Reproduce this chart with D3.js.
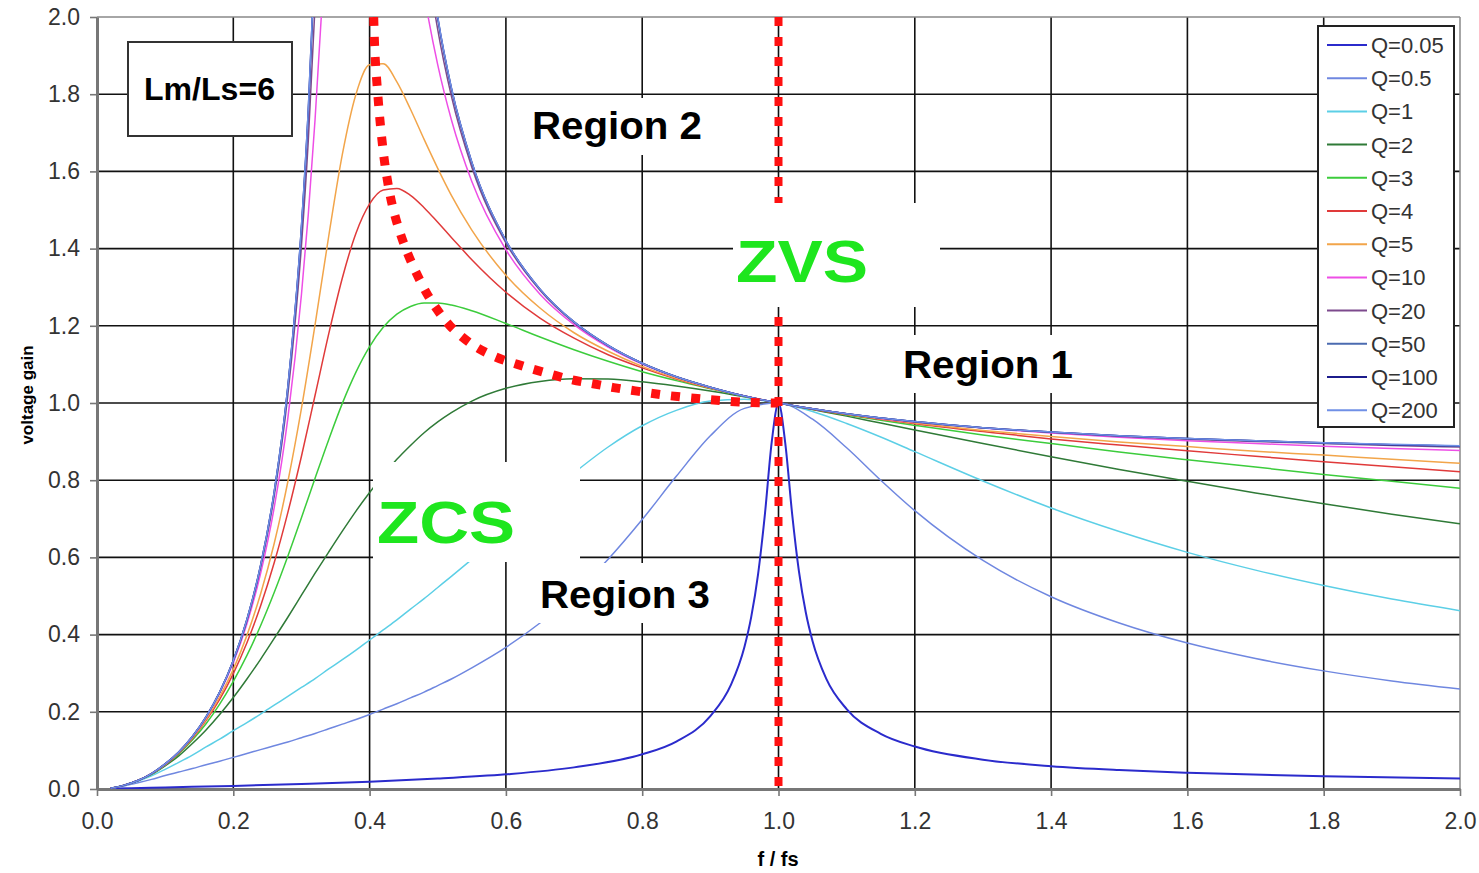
<!DOCTYPE html>
<html><head><meta charset="utf-8">
<script src="https://cdn.jsdelivr.net/npm/d3@7"></script>
<style>
html,body{margin:0;padding:0;background:#fff;}
svg{display:block;font-family:"Liberation Sans",Arial,sans-serif;}
</style></head><body>
<svg id="chart" width="1479" height="873"></svg>
<script>
// ---------- data ----------
const xTicks = [0.0,0.2,0.4,0.6,0.8,1.0,1.2,1.4,1.6,1.8,2.0];
const yTicks = [0.0,0.2,0.4,0.6,0.8,1.0,1.2,1.4,1.6,1.8,2.0];
const seriesNames = ["Q=0.05","Q=0.5","Q=1","Q=2","Q=3","Q=4","Q=5","Q=10","Q=20","Q=50","Q=100","Q=200"];
const seriesColors = ["#2b2bcc","#6f87e0","#5ccfe6","#2f7a37","#3ccc3c","#e03a3a","#f2a54a","#ee4ee6","#7d4a8d","#4b6bb0","#1c1c8c","#7090e6"];

const fRatioFine = [0.02,0.05,0.1,0.2,0.3,0.4,0.5,0.6,0.7,0.8,0.85,0.9,0.93,0.95,0.96,0.97,0.98,0.99,1.0,1.01,1.02,1.03,1.04,1.05,1.07,1.1,1.15,1.2,1.3,1.4,1.5,1.6,1.8,2.0];
const fRatioLow = [0.02,0.04,0.06,0.08,0.10,0.12,0.14,0.16,0.18,0.20,0.22,0.24,0.26,0.28,0.30,0.32,0.34,0.36,0.38,0.40,0.42,0.44,0.46,0.48,0.50,0.52,0.55,0.60,0.65,0.70,0.75,0.80,0.85,0.90,0.95,1.00,1.05,1.10,1.15,1.20,1.30,1.40,1.50,1.60,1.70,1.80,1.90,2.00];
const fRatioHigh = [0.02,0.04,0.06,0.08,0.10,0.12,0.14,0.16,0.18,0.20,0.22,0.24,0.26,0.28,0.30,0.31,0.32,0.33,0.34,0.36,0.38,0.40,0.42,0.44,0.46,0.48,0.50,0.52,0.55,0.60,0.65,0.70,0.75,0.80,0.85,0.90,0.95,1.00,1.05,1.10,1.15,1.20,1.30,1.40,1.50,1.60,1.70,1.80,1.90,2.00];

const gainQ0_05 = [0.001,0.002,0.004,0.008,0.013,0.019,0.027,0.038,0.056,0.090,0.123,0.189,0.269,0.368,0.446,0.556,0.711,0.898,1.000,0.895,0.713,0.564,0.458,0.383,0.286,0.207,0.143,0.110,0.076,0.059,0.049,0.042,0.033,0.027];
const gainQ0_5 = [0.002,0.008,0.016,0.025,0.035,0.044,0.053,0.063,0.072,0.082,0.092,0.102,0.112,0.122,0.133,0.144,0.156,0.168,0.180,0.193,0.207,0.221,0.236,0.251,0.268,0.285,0.314,0.367,0.430,0.505,0.595,0.698,0.810,0.915,0.986,1.000,0.958,0.884,0.800,0.721,0.592,0.498,0.430,0.378,0.338,0.306,0.280,0.259];
const gainQ1 = [0.002,0.009,0.020,0.034,0.051,0.069,0.088,0.109,0.129,0.151,0.172,0.194,0.217,0.240,0.263,0.286,0.311,0.335,0.360,0.386,0.412,0.438,0.466,0.493,0.522,0.551,0.595,0.670,0.746,0.819,0.886,0.941,0.981,1.005,1.010,1.000,0.978,0.947,0.912,0.874,0.798,0.728,0.667,0.613,0.567,0.527,0.492,0.462];
const gainQ2 = [0.002,0.010,0.022,0.038,0.060,0.086,0.118,0.153,0.193,0.237,0.285,0.336,0.390,0.445,0.502,0.559,0.614,0.668,0.720,0.768,0.813,0.854,0.890,0.923,0.951,0.975,1.005,1.038,1.056,1.063,1.062,1.055,1.044,1.031,1.016,1.000,0.983,0.966,0.948,0.930,0.895,0.861,0.828,0.797,0.767,0.739,0.712,0.687];
const gainQ3 = [0.002,0.010,0.022,0.039,0.062,0.091,0.127,0.169,0.220,0.279,0.346,0.423,0.509,0.603,0.703,0.805,0.905,0.999,1.080,1.146,1.196,1.230,1.250,1.259,1.259,1.254,1.239,1.206,1.171,1.138,1.108,1.081,1.058,1.037,1.017,1.000,0.984,0.969,0.955,0.942,0.917,0.895,0.873,0.853,0.834,0.815,0.797,0.779];
const gainQ4 = [0.002,0.010,0.022,0.040,0.063,0.093,0.131,0.177,0.232,0.299,0.379,0.474,0.586,0.716,0.862,1.020,1.179,1.324,1.440,1.516,1.552,1.556,1.538,1.506,1.468,1.429,1.371,1.287,1.220,1.168,1.125,1.091,1.062,1.038,1.018,1.000,0.984,0.970,0.958,0.946,0.926,0.907,0.891,0.876,0.862,0.848,0.835,0.822];
const gainQ5 = [0.002,0.010,0.022,0.040,0.064,0.094,0.133,0.180,0.239,0.310,0.398,0.505,0.636,0.796,0.986,1.203,1.432,1.644,1.800,1.876,1.879,1.832,1.761,1.683,1.608,1.538,1.448,1.331,1.246,1.182,1.134,1.095,1.064,1.039,1.018,1.000,0.985,0.971,0.959,0.948,0.929,0.913,0.899,0.887,0.875,0.865,0.854,0.844];
const gainQ10 = [0.002,0.010,0.022,0.040,0.064,0.096,0.135,0.185,0.248,0.327,0.428,0.558,0.729,0.960,1.281,1.488,1.735,2.027,2.366,null,null,null,null,2.630,2.304,2.060,1.876,1.734,1.574,1.397,1.282,1.203,1.145,1.101,1.067,1.040,1.018,1.000,0.985,0.972,0.960,0.951,0.935,0.922,0.911,0.902,0.895,0.888,0.882,0.877];
const gainQ20 = [0.002,0.010,0.022,0.040,0.065,0.096,0.136,0.187,0.251,0.332,0.436,0.574,0.759,1.020,1.408,1.679,2.031,2.499,null,null,null,null,null,null,2.542,2.202,1.967,1.795,1.611,1.415,1.292,1.208,1.148,1.103,1.068,1.041,1.018,1.000,0.985,0.972,0.961,0.951,0.936,0.924,0.914,0.906,0.900,0.895,0.890,0.886];
const gainQ50 = [0.002,0.010,0.022,0.040,0.065,0.096,0.136,0.187,0.251,0.333,0.439,0.578,0.768,1.039,1.451,1.748,2.146,null,null,null,null,null,null,null,2.622,2.247,1.995,1.814,1.622,1.420,1.295,1.210,1.149,1.103,1.068,1.041,1.018,1.000,0.985,0.972,0.961,0.952,0.936,0.924,0.915,0.908,0.902,0.896,0.892,0.888];
const gainQ100 = [0.002,0.010,0.022,0.040,0.065,0.096,0.136,0.187,0.251,0.333,0.439,0.579,0.770,1.042,1.457,1.758,2.164,null,null,null,null,null,null,null,2.634,2.254,1.999,1.816,1.624,1.421,1.295,1.210,1.149,1.103,1.068,1.041,1.018,1.000,0.985,0.972,0.961,0.952,0.936,0.925,0.915,0.908,0.902,0.897,0.892,0.889];
const gainQ200 = [0.002,0.010,0.022,0.040,0.065,0.096,0.136,0.187,0.251,0.333,0.439,0.579,0.770,1.042,1.459,1.761,2.168,null,null,null,null,null,null,null,2.638,2.256,2.000,1.817,1.624,1.421,1.295,1.210,1.149,1.103,1.068,1.041,1.018,1.000,0.985,0.972,0.961,0.952,0.936,0.925,0.915,0.908,0.902,0.897,0.893,0.889];

// boundary ZVS / ZCS (locus of peaks) and resonance line
const locusRatio = [0.406,0.408,0.412,0.417,0.424,0.435,0.453,0.479,0.496,0.518,0.552,0.584,0.617,0.655,0.697,0.728,0.758,0.795,0.835,0.890,0.930,0.960,1.000];
const locusGain  = [2.000,1.900,1.800,1.700,1.600,1.500,1.400,1.300,1.250,1.200,1.150,1.120,1.100,1.080,1.060,1.050,1.040,1.030,1.020,1.010,1.004,1.001,1.000];
const resonanceRatio = [1.0,1.0];
const resonanceGain = [2.0,0.0];

// ---------- chart ----------
const plot = {left:97, right:1460, top:17, bottom:789};
const x = d3.scaleLinear().domain([0,2]).range([plot.left, plot.right]);
const y = d3.scaleLinear().domain([0,2]).range([plot.bottom, plot.top]);
const svg = d3.select('#chart');

svg.append('defs').append('clipPath').attr('id','plotclip')
  .append('rect').attr('x',plot.left).attr('y',plot.top)
  .attr('width',plot.right-plot.left).attr('height',plot.bottom-plot.top);

// grid
const grid = svg.append('g');
grid.selectAll('line.v').data(xTicks.filter(d=>d>0 && d<2)).join('line').attr('class','v')
  .attr('x1',d=>x(d)).attr('x2',d=>x(d)).attr('y1',plot.top).attr('y2',plot.bottom)
  .attr('stroke','#111').attr('stroke-width',1.6);
grid.selectAll('line.h').data(yTicks.filter(d=>d>0 && d<2)).join('line').attr('class','h')
  .attr('y1',d=>y(d)).attr('y2',d=>y(d)).attr('x1',plot.left).attr('x2',plot.right)
  .attr('stroke','#111').attr('stroke-width',1.6);
grid.append('line').attr('x1',plot.left).attr('x2',plot.right).attr('y1',y(2)).attr('y2',y(2))
  .attr('stroke','#888').attr('stroke-width',1.5);
grid.append('line').attr('x1',x(2)).attr('x2',x(2)).attr('y1',plot.top).attr('y2',plot.bottom)
  .attr('stroke','#888').attr('stroke-width',1.5);

// axes
const fmt = d3.format('.1f');
const yAxis = svg.append('g').attr('transform',`translate(${plot.left},0)`)
  .call(d3.axisLeft(y).tickValues(yTicks).tickFormat(fmt).tickSize(7).tickSizeOuter(0).tickPadding(10));
const xAxis = svg.append('g').attr('transform',`translate(0,${plot.bottom})`)
  .call(d3.axisBottom(x).tickValues(xTicks).tickFormat(fmt).tickSize(7).tickSizeOuter(0).tickPadding(18));
[yAxis,xAxis].forEach(a=>{
  a.select('.domain').attr('stroke','#777').attr('stroke-width',3);
  a.selectAll('.tick line').attr('stroke','#777').attr('stroke-width',1.6);
  a.selectAll('.tick text').attr('fill','#333').style('font-size','23px')
    .style('font-family','"Liberation Sans",Arial,sans-serif');
});
xAxis.selectAll('.tick text').attr('dy','0.65em');

// curves
const series = [
  {xs:fRatioFine, ys:gainQ0_05, w:2},
  {xs:fRatioLow, ys:gainQ0_5, w:1.5},
  {xs:fRatioLow, ys:gainQ1, w:1.5},
  {xs:fRatioLow, ys:gainQ2, w:1.5},
  {xs:fRatioLow, ys:gainQ3, w:1.5},
  {xs:fRatioLow, ys:gainQ4, w:1.5},
  {xs:fRatioLow, ys:gainQ5, w:1.5},
  {xs:fRatioHigh, ys:gainQ10, w:1.5},
  {xs:fRatioHigh, ys:gainQ20, w:1.5},
  {xs:fRatioHigh, ys:gainQ50, w:1.5},
  {xs:fRatioHigh, ys:gainQ100, w:1.5},
  {xs:fRatioHigh, ys:gainQ200, w:1.5}
];
const line = d3.line().defined(d=>d[1]!=null).x(d=>x(d[0])).y(d=>y(d[1])).curve(d3.curveMonotoneX);
const curves = svg.append('g').attr('clip-path','url(#plotclip)');
series.forEach((s,i)=>{
  const pts = s.xs.map((v,j)=>[v,s.ys[j]]);
  curves.append('path').attr('d',line(pts)).attr('fill','none')
    .attr('stroke',seriesColors[i]).attr('stroke-width',s.w).attr('stroke-linejoin','round');
});

// red dotted boundaries
const red = svg.append('g').attr('clip-path','url(#plotclip)');
const locusLine = d3.line().x(d=>x(d[0])).y(d=>y(d[1])).curve(d3.curveCatmullRom.alpha(0.5));
red.append('path').attr('d',locusLine(locusRatio.map((v,i)=>[v,locusGain[i]])))
  .attr('fill','none').attr('stroke','#ff1010').attr('stroke-width',9).attr('stroke-dasharray','9,11');
red.append('path').attr('d',d3.line().x(d=>x(d[0])).y(d=>y(d[1]))(resonanceRatio.map((v,i)=>[v,resonanceGain[i]])))
  .attr('fill','none').attr('stroke','#ff1010').attr('stroke-width',8).attr('stroke-dasharray','9,11');

// white label backgrounds
const boxes = [[520,98,195,57],[733,203,207,104],[893,335,190,58],[373,462,207,100],[532,563,190,60]];
svg.append('g').selectAll('rect').data(boxes).join('rect')
  .attr('x',d=>d[0]).attr('y',d=>d[1]).attr('width',d=>d[2]).attr('height',d=>d[3]).attr('fill','#fff');

// labels
const lab = svg.append('g').style('font-weight','bold');
function addText(t,xp,yp,size,len,fill){
  lab.append('text').attr('x',xp).attr('y',yp).text(t).style('font-size',size+'px')
    .attr('fill',fill).attr('textLength',len).attr('lengthAdjust','spacingAndGlyphs');
}
addText('Region 2',532,139,38,170,'#000');
addText('Region 1',903,378,38,170,'#000');
addText('Region 3',540,608,38,170,'#000');
addText('ZVS',736,282,59,132,'#1ee61e');
addText('ZCS',377,543,60,138,'#1ee61e');

// Lm/Ls box
svg.append('rect').attr('x',128).attr('y',42).attr('width',164).attr('height',94)
  .attr('fill','#fff').attr('stroke','#333').attr('stroke-width',2);
svg.append('text').attr('x',144).attr('y',100).text('Lm/Ls=6').style('font-weight','bold')
  .style('font-size','31px').attr('fill','#000').attr('textLength',131).attr('lengthAdjust','spacingAndGlyphs');

// legend
const lg = svg.append('g');
lg.append('rect').attr('x',1318).attr('y',26).attr('width',136).attr('height',401)
  .attr('fill','#fff').attr('stroke','#222').attr('stroke-width',2);
seriesNames.forEach((n,i)=>{
  const yy = 45 + i*33.2;
  lg.append('line').attr('x1',1327).attr('x2',1367).attr('y1',yy).attr('y2',yy)
    .attr('stroke',seriesColors[i]).attr('stroke-width',2);
  lg.append('text').attr('x',1371).attr('y',yy).attr('dy','0.36em').text(n)
    .style('font-size','22px').attr('fill','#333');
});

// axis titles
svg.append('text').attr('transform','translate(33,395) rotate(-90)').attr('text-anchor','middle')
  .text('voltage gain').style('font-weight','bold').style('font-size','17px').attr('fill','#000');
svg.append('text').attr('x',778).attr('y',866).attr('text-anchor','middle')
  .text('f / fs').style('font-weight','bold').style('font-size','20px').attr('fill','#000');
</script>
</body></html>
